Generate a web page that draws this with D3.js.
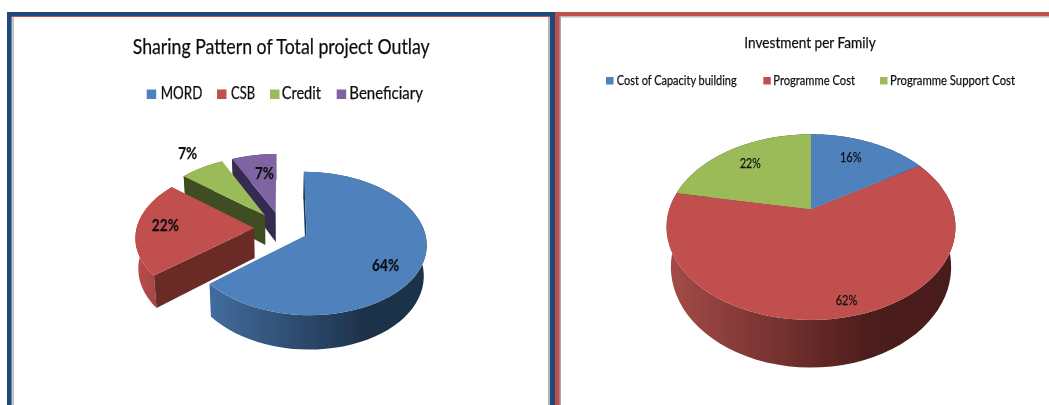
<!DOCTYPE html>
<html>

<head>
  <meta charset="utf-8">
  <title>Sharing Pattern and Investment per Family</title>
  <style>
    body {
      margin: 0;
      background: #fff;
    }

    svg {
      display: block;
    }

    text {
      font-family: Lato, sans-serif;
      fill: #111;
      stroke: #111;
      stroke-width: 0.25px;
    }
  </style>
</head>

<body>
  <div id="viz"></div>

  <script src="https://d3js.org/d3.v7.min.js"></script>

  <script>
    // chart data
    const outlayTitle = 'Sharing Pattern of Total project Outlay';
    const outlayCategories = ['MORD', 'CSB', 'Credit', 'Beneficiary'];
    const outlayValues = [64, 22, 7, 7];

    const familyTitle = 'Investment per Family';
    const familyCategories = ['Cost of Capacity building', 'Programme Cost', 'Programme Support Cost'];
    const familyValues = [16, 62, 22];

    const sliceColors = ['#4f81bd', '#c0504d', '#9bbb59', '#8064a2'];
    const wallColors = ['#1f3a5b', '#6b2a28', '#3f4d20', '#35294f'];

    let svg = d3.select('#viz')
      .append('svg')
      .attr('width', 1049)
      .attr('height', 405);

    let defs = svg.append('defs');

    defs.append('filter').attr('id', 'soft')
      .append('feGaussianBlur').attr('stdDeviation', 0.45);

    function wallGradient(id, x1, x2, stops) {
      let g = defs.append('linearGradient')
        .attr('id', id)
        .attr('gradientUnits', 'userSpaceOnUse')
        .attr('x1', x1).attr('x2', x2)
        .attr('y1', 0).attr('y2', 0);
      stops.forEach(s => g.append('stop').attr('offset', s[0]).attr('stop-color', s[1]));
      return `url(#${id})`;
    }

    // panel frames
    let frames = svg.append('g');
    function bar(x, y, w, h, fill) {
      frames.append('rect').attr('x', x).attr('y', y).attr('width', w).attr('height', h).attr('fill', fill);
    }
    bar(11, 16, 539, 1, '#c0504d');
    bar(11, 17, 3, 388, '#c4c4c4');
    bar(548, 17, 2, 388, '#b4b4b4');
    bar(559, 16, 490, 1.5, '#bdbdbd');
    bar(559, 16, 2, 389, '#a8a8a8');
    bar(7, 12, 548, 4, '#1f497d');
    bar(7, 12, 4.5, 393, '#1f497d');
    bar(550, 12, 5, 393, '#1f497d');
    bar(555, 12, 494, 4, '#c0504d');
    bar(555, 12, 4.5, 393, '#c0504d');

    function drawPie(opts) {
      let g = svg.append('g').attr('filter', 'url(#soft)');

      let pie = d3.pie().sort(null)(opts.values);
      let k = opts.persp;

      // flat disc coordinates to screen, far side is squeezed by k
      let px = d3.scaleLinear().domain([0, 1]).range([opts.cx, opts.cx + opts.rx]);
      let py = d3.scaleLinear().domain([0, 1]).range([opts.cy, opts.cy - opts.ry]);

      function project(u, v, low) {
        let w = 1 + k * v;
        let x = px(u / w);
        let y = py(v / w);
        if (low) {
          x = opts.cx + (x - opts.cx) * opts.bottomScale;
          y += opts.depth / w;
        }
        return [x, y];
      }

      let slices = pie.map((d, i) => {
        let mid = (d.startAngle + d.endAngle) / 2;
        return {
          d: d, i: i, mid: mid,
          ox: opts.explode * Math.sin(mid),
          oy: opts.explode * Math.cos(mid)
        };
      });

      function rim(s, low) {
        let steps = d3.range(0, 61).map(n => s.d.startAngle + (s.d.endAngle - s.d.startAngle) * n / 60);
        return steps.map(a => project(s.ox + Math.sin(a), s.oy + Math.cos(a), low));
      }

      let line = d3.line();

      function drawWalls(s) {
        let top = rim(s, false);
        let low = rim(s, true);

        // outer wall
        g.append('path')
          .attr('d', line(top.concat(low.reverse())) + 'Z')
          .attr('fill', opts.outerFill[s.i] || wallColors[s.i]);

        // cut wall along the start edge
        let a = s.d.startAngle;
        g.append('path')
          .attr('d', line([
            project(s.ox, s.oy, false),
            project(s.ox + Math.sin(a), s.oy + Math.cos(a), false),
            project(s.ox + Math.sin(a), s.oy + Math.cos(a), true),
            project(s.ox, s.oy, true)
          ]) + 'Z')
          .attr('fill', wallColors[s.i]);
      }

      function drawTop(s) {
        g.append('path')
          .attr('d', line([project(s.ox, s.oy, false)].concat(rim(s, false))) + 'Z')
          .attr('fill', sliceColors[s.i]);
      }

      // back slices first, the big one goes on top
      let order = slices.slice().reverse();
      if (opts.explode > 0) {
        order.forEach(s => {
          drawWalls(s);
          drawTop(s);
        });
      } else {
        // closed disc, tops sit over every wall
        order.forEach(drawWalls);
        order.forEach(drawTop);
      }

      // percent labels
      slices.forEach(s => {
        let c = project(s.ox + 0.7 * Math.sin(s.mid), s.oy + 0.7 * Math.cos(s.mid), false);
        svg.append('text')
          .attr('x', c[0] + opts.labelNudge[s.i][0])
          .attr('y', c[1] + opts.labelNudge[s.i][1])
          .attr('text-anchor', 'middle')
          .attr('font-size', opts.labelSize)
          .attr('font-weight', opts.labelWeight)
          .attr('textLength', opts.labelWidth[s.i])
          .attr('lengthAdjust', 'spacingAndGlyphs')
          .attr('filter', 'url(#soft)')
          .text(s.d.value + '%');
      });

      // title
      svg.append('text')
        .attr('x', opts.titleX)
        .attr('y', opts.titleY)
        .attr('font-size', opts.titleSize)
        .attr('textLength', opts.titleWidth)
        .attr('lengthAdjust', 'spacingAndGlyphs')
        .attr('filter', 'url(#soft)')
        .text(opts.title);

      // legend
      opts.categories.forEach((name, i) => {
        let l = opts.legend[i];
        svg.append('rect')
          .attr('x', l[0])
          .attr('y', opts.legendY - opts.swatch)
          .attr('width', opts.swatch)
          .attr('height', opts.swatch)
          .attr('fill', sliceColors[i]);
        svg.append('text')
          .attr('x', l[1])
          .attr('y', opts.legendY)
          .attr('font-size', opts.legendSize)
          .attr('textLength', l[2])
          .attr('lengthAdjust', 'spacingAndGlyphs')
          .attr('filter', 'url(#soft)')
          .text(name);
      });
    }

    drawPie({
      title: outlayTitle,
      categories: outlayCategories,
      values: outlayValues,
      cx: 281.5, cy: 228, rx: 117.5, ry: 69,
      persp: 0.118, explode: 0.233, depth: 30, bottomScale: 0.98,
      outerFill: [
        wallGradient('wallBlue', 210, 420, [[0, '#436c9e'], [0.75, '#1d3149'], [1, '#1d3149']]),
        wallGradient('wallRed', 137, 160, [[0, '#b94e4a'], [1, '#a04442']])
      ],
      labelSize: 17, labelWeight: 700,
      labelWidth: [27, 27, 19, 19],
      labelNudge: [[0, 14.7], [-6.5, 3], [-32, -22], [4.5, 7.6]],
      titleX: 132.7, titleY: 54, titleSize: 21, titleWidth: 297,
      legendY: 99, swatch: 9.5, legendSize: 17,
      legend: [[146.7, 160.7, 41.6], [217, 231, 24], [270, 281.7, 39.3], [336.7, 349.3, 73.7]]
    });

    drawPie({
      title: familyTitle,
      categories: familyCategories,
      values: familyValues,
      cx: 811, cy: 209.3, rx: 141.8, ry: 89.4,
      persp: 0.192, explode: 0, depth: 38.5, bottomScale: 0.97,
      outerFill: [
        null,
        wallGradient('wallFamily', 668, 950, [[0, '#a54b48'], [0.72, '#4d1d1c'], [1, '#4a1e1d']])
      ],
      labelSize: 14, labelWeight: 400,
      labelWidth: [21.5, 21.5, 20.7],
      labelNudge: [[-3, 1.4], [14, 25], [-3.4, 2]],
      titleX: 744.3, titleY: 48.3, titleSize: 16, titleWidth: 131.4,
      legendY: 84.5, swatch: 7.5, legendSize: 14,
      legend: [[606, 616.7, 120], [763.3, 773.3, 81.7], [880, 890, 125]]
    });
  </script>
</body>

</html>
